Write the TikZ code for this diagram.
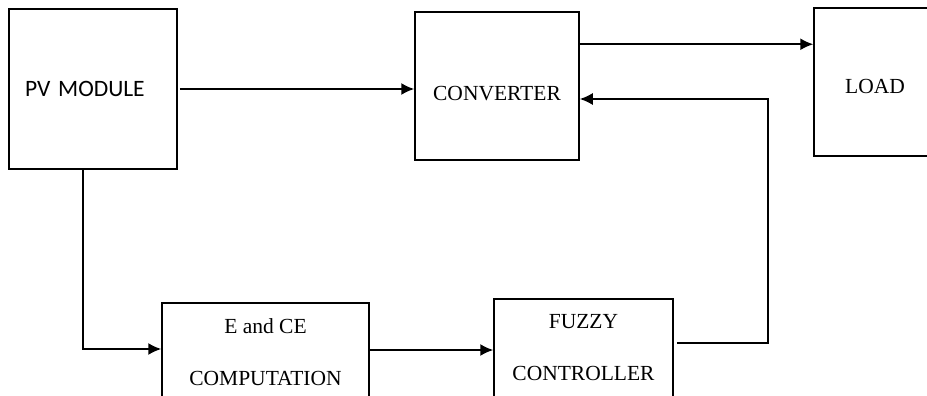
\documentclass[tikz,border=0pt]{standalone}
\usepackage{fontspec}
\setmainfont{Liberation Serif}
\newfontfamily\calfont{Carlito}
\usetikzlibrary{arrows.meta}
\tikzset{
  blk/.style={draw, line width=1.5pt, inner sep=0pt, align=center, font=\fontsize{21.5}{52}\selectfont},
  conn/.style={line width=1.7pt, -{Latex[length=13pt,width=12pt]}},
}
\begin{document}
\begin{tikzpicture}[x=1pt, y=-1pt]
\useasboundingbox (0,0) rectangle (927,396);
\clip (0,0) rectangle (927,396);
\node[blk, font=\calfont\fontsize{23.5}{28}\selectfont, text width=136pt, align=left, inner xsep=16pt, minimum height=160pt] (pv) at (93,89) {PV MODULE};
\node[blk, minimum width=164pt, minimum height=148pt, text height=28pt, text depth=0pt] (conv) at (497,86) {CONVERTER};
\node[blk, minimum width=122pt, minimum height=148pt, text height=24pt, text depth=0pt] (load) at (875,82) {LOAD};
\node[blk, minimum width=207pt, minimum height=98pt] (ece) at (265.5,352) {E and CE\\COMPUTATION};
\node[blk, minimum width=179pt, minimum height=98pt] (fuzzy) at (583.5,348) {FUZZY\\CONTROLLER};
\coordinate (fb) at (768,99);
\draw[conn] ([xshift=2pt]pv.east) -- (pv.east -| conv.west);
\draw[conn] ([yshift=-33pt]conv.north east) -- ([yshift=-33pt]conv.north east -| load.west);
\draw[conn] ([xshift=-10pt]pv.south) |- ([yshift=3pt]ece.west);
\draw[conn] ([yshift=2pt]ece.east) -- ([yshift=2pt]ece.east -| fuzzy.west);
\draw[conn] ([xshift=3pt,yshift=5pt]fuzzy.east) -| (fb) -- (fb -| conv.east);
\end{tikzpicture}
\end{document}
